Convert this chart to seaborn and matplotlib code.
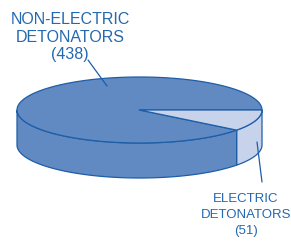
import numpy as np
import matplotlib
matplotlib.use("Agg")
import matplotlib.pyplot as plt
import seaborn as sns

# --- data ---
labels = ["NON-ELECTRIC\nDETONATORS", "ELECTRIC\nDETONATORS"]
counts = [438, 51]

# --- style ---
sns.set_theme(style="white")
plt.rcParams['font.family'] = ['Liberation Sans', 'DejaVu Sans']

DARK = "#6189c2"
LIGHT = "#c6d3ea"
EDGE = "#1d5ea8"
TEXT = "#2468b0"

fig = plt.figure(figsize=(2.91, 2.41), dpi=100)
ax = fig.add_axes([0, 0, 1, 1])
ax.set_xlim(0, 291)
ax.set_ylim(241, 0)
ax.axis("off")

cx, cy = 139.5, 110.0
rx, ry = 122.5, 33.0
depth = 35.0

total = sum(counts)
# electric slice starts at the right edge and runs clockwise (downward on screen)
elec_span = 360.0 * counts[1] / total
spans = {"non": (elec_span, 360.0), "elec": (0.0, elec_span)}
colors = {"non": DARK, "elec": LIGHT}


def arc(a0, a1, dy=0.0, n=200):
    t = np.radians(np.linspace(a0, a1, n))
    return cx + rx * np.cos(t), cy + ry * np.sin(t) + dy


# side walls (only the front half, 0..180 deg, is visible)
for key in ["elec", "non"]:
    a0, a1 = spans[key]
    lo, hi = max(a0, 0), min(a1, 180)
    if hi <= lo:
        continue
    xt, yt = arc(lo, hi)
    xb, yb = arc(hi, lo, depth)
    ax.fill(np.r_[xt, xb], np.r_[yt, yb], color=colors[key], ec=EDGE, lw=0.9, zorder=1)

# top wedges
for key in ["non", "elec"]:
    a0, a1 = spans[key]
    xt, yt = arc(a0, a1)
    ax.fill(np.r_[cx, xt], np.r_[cy, yt], color=colors[key], ec=EDGE, lw=0.9,
            joinstyle="round", zorder=2)

# labels and leader lines
ax.text(70, 37, f"{labels[0]}\n({counts[0]})", ha="center", va="center",
        fontsize=11.5, color=TEXT, linespacing=1.2)
ax.plot([88, 107], [60, 86], color=EDGE, lw=0.9, zorder=3)

ax.text(246, 215, f"{labels[1]}\n({counts[1]})", ha="center", va="center",
        fontsize=9.5, color=TEXT, linespacing=1.45)
ax.plot([257, 262], [142, 182], color=EDGE, lw=0.9, zorder=3)

fig.savefig("out.png", dpi=100)
